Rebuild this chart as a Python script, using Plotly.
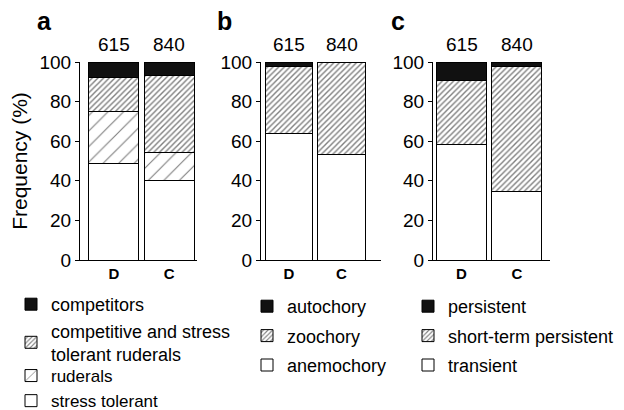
import plotly.graph_objects as go

# ---------------- data ----------------
categories = ["D", "C"]
counts = [615, 840]

# panel a: life strategies (bottom -> top)
stress_tolerant = [48.8, 40.4]
ruderals = [26.1, 14.0]
csr = [17.4, 38.9]
competitors = [7.7, 6.7]

# panel b: dispersal
anemochory = [64.0, 53.4]
zoochory = [33.6, 46.1]
autochory = [2.4, 0.5]

# panel c: seed bank
transient = [58.1, 34.5]
short_term = [32.8, 63.1]
persistent = [9.1, 2.4]

y_ticks = [0, 20, 40, 60, 80, 100]
panel_letters = ["a", "b", "c"]

# ---------------- styling ----------------
W, H = 624, 410
FONT = "Liberation Sans, Arial, Helvetica, sans-serif"
OUT = dict(color="black", width=1)

def fx(p):
    return p / W

def fy(p):
    return 1 - p / H

STYLE = {
    "white": dict(color="white", line=OUT),
    "black": dict(color="#111111", line=OUT),
    "dense": dict(color="white", line=OUT,
                  pattern=dict(shape="/", size=4, solidity=0.35,
                               fgcolor="black", bgcolor="white", fillmode="overlay")),
    "sparse": dict(color="white", line=OUT,
                   pattern=dict(shape="/", size=11, solidity=0.1,
                                fgcolor="black", bgcolor="white", fillmode="overlay")),
}

# (legend name, values, style, legend id)
panels = [
    dict(xa="x", ya="y",
         series=[("stress tolerant", stress_tolerant, "white", "legend4"),
                 ("ruderals", ruderals, "sparse", "legend4"),
                 ("competitive and stress<br>tolerant ruderals", csr, "dense", "legend"),
                 ("competitors", competitors, "black", "legend")]),
    dict(xa="x2", ya="y2",
         series=[("anemochory", anemochory, "white", "legend2"),
                 ("zoochory", zoochory, "dense", "legend2"),
                 ("autochory", autochory, "black", "legend2")]),
    dict(xa="x3", ya="y3",
         series=[("transient", transient, "white", "legend3"),
                 ("short-term persistent", short_term, "dense", "legend3"),
                 ("persistent", persistent, "black", "legend3")]),
]

fig = go.Figure()
for pi, p in enumerate(panels):
    n = len(p["series"])
    for si, (name, vals, st, leg) in enumerate(p["series"]):
        fig.add_trace(go.Bar(
            x=list(range(len(categories))), y=vals, name=name,
            xaxis=p["xa"], yaxis=p["ya"], legend=leg,
            legendgroup=f"g{pi}{si}", legendrank=n - si,
            marker=STYLE[st], hoverinfo="skip",
        ))

# axes geometry (pixels)
x_domains_px = [(80, 197), (261, 381), (433, 550)]
x_ranges = [(-0.61, 1.5), (-0.533, 1.752), (-0.516, 1.6)]
y_dom = [fy(260), fy(62)]

layout = dict(
    width=W, height=H, margin=dict(l=0, r=0, t=0, b=0, autoexpand=False),
    paper_bgcolor="white", plot_bgcolor="white",
    barmode="stack", bargap=0.1,
    font=dict(family=FONT, size=19, color="black"),
    showlegend=True,
)

for i in range(3):
    sfx = "" if i == 0 else str(i + 1)
    layout["xaxis" + sfx] = dict(
        domain=[fx(x_domains_px[i][0]), fx(x_domains_px[i][1])],
        range=list(x_ranges[i]), anchor="y" + sfx,
        showline=True, linecolor="black", linewidth=1,
        ticks="", showgrid=False, zeroline=False,
        tickvals=list(range(len(categories))),
        ticktext=[f"<b>{c}</b>" for c in categories],
        tickfont=dict(size=15), fixedrange=True, automargin=False,
    )
    layout["yaxis" + sfx] = dict(
        domain=y_dom, range=[0, 100], anchor="x" + sfx,
        showline=True, linecolor="black", linewidth=1,
        ticks="outside", ticklen=4, tickcolor="black",
        tickvals=y_ticks, showgrid=False, zeroline=False,
        tickfont=dict(size=19), fixedrange=True, automargin=False,
    )
layout["yaxis"]["title"] = dict(text="Frequency (%)", font=dict(size=21), standoff=6)

leg_common = dict(bgcolor="rgba(0,0,0,0)", traceorder="grouped",
                  yanchor="top", xanchor="left", itemclick=False,
                  itemdoubleclick=False)
layout["legend"] = dict(x=fx(11), y=fy(286), tracegroupgap=0, font=dict(size=18), **leg_common)
layout["legend4"] = dict(x=fx(11), y=fy(358), tracegroupgap=0, font=dict(size=17), **leg_common)
layout["legend2"] = dict(x=fx(247), y=fy(288), tracegroupgap=3, font=dict(size=18), **leg_common)
layout["legend3"] = dict(x=fx(408), y=fy(288), tracegroupgap=3, font=dict(size=18), **leg_common)

annotations = []
letter_px = [(45, 21), (224, 21), (398, 21)]
for i in range(3):
    annotations.append(dict(text=f"<b>{panel_letters[i]}</b>", x=fx(letter_px[i][0]),
                            y=fy(letter_px[i][1]), xref="paper", yref="paper",
                            xanchor="center", yanchor="middle",
                            showarrow=False, font=dict(size=25)))
    sfx = "" if i == 0 else str(i + 1)
    for ci, n in enumerate(counts):
        annotations.append(dict(text=str(n), x=ci, y=fy(45), xref="x" + sfx, yref="paper",
                                xanchor="center", yanchor="middle",
                                showarrow=False, font=dict(size=19)))
layout["annotations"] = annotations

fig.update_layout(**layout)
fig.write_html("out.html", config={"displayModeBar": False},
               post_script="document.body.style.margin='0';document.body.style.overflow='hidden';")
